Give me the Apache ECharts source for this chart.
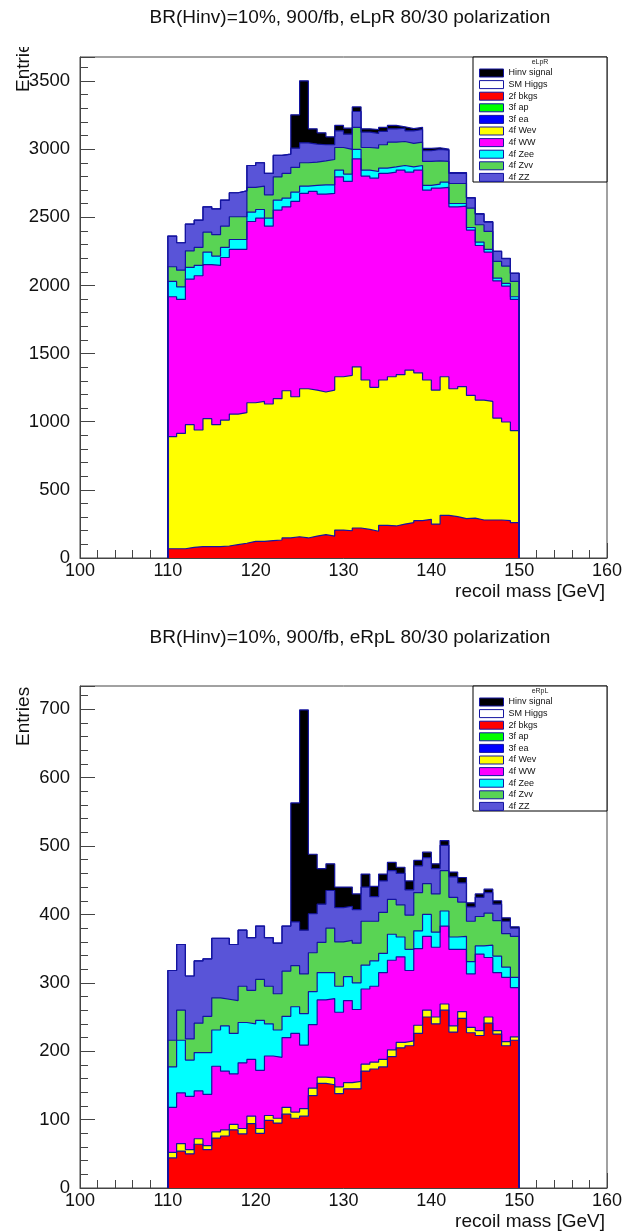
<!DOCTYPE html>
<html>
<head>
<meta charset="utf-8">
<script src="https://cdn.jsdelivr.net/npm/echarts@6/dist/echarts.min.js"></script>
<style>
html,body{margin:0;padding:0;background:#fff;}
#top{width:635px;height:615px;}
#bot{width:635px;height:616px;}
</style>
</head>
<body>
<div id="top"></div>
<div id="bot"></div>
<script>
// ---- bins: lower edges (GeV), 1 GeV wide ----
const binLowEdges = [110,111,112,113,114,115,116,117,118,119,120,121,122,123,124,125,126,127,128,129,
                     130,131,132,133,134,135,136,137,138,139,140,141,142,143,144,145,146,147,148,149];
const binWidth = 1;

const legendNames = ['Hinv signal','SM Higgs','2f bkgs','3f ap','3f ea','4f Wev','4f WW','4f Zee','4f Zvv','4f ZZ'];

// ---- eLpR: cumulative stack heights (top edge of each layer) ----
const lpr_hinv = [2362,2313,2450,2479,2577,2562,2626,2680,2694,2880,2900,2822,2954,2963,3252,3501,3149,3120,3090,3174,
                  3154,3310,3149,3144,3159,3174,3164,3150,3160,3005,3010,3000,2828,2828,2645,2527,2468,2252,2198,2090];
const lpr_zz   = [2362,2313,2450,2479,2577,2562,2626,2680,2694,2880,2900,2822,2954,2963,3007,3046,3037,3032,3032,3134,
                  3110,3276,3125,3115,3130,3149,3154,3134,3144,2988,2998,2993,2822,2822,2641,2523,2465,2249,2196,2088];
const lpr_zvv  = [2137,2112,2254,2279,2391,2372,2435,2504,2504,2719,2729,2665,2797,2822,2866,2900,2905,2914,2924,3012,
                  2998,3159,3012,3007,3032,3051,3056,3042,3051,2910,2914,2910,2748,2748,2567,2445,2396,2176,2142,2029];
const lpr_zee  = [2029,1990,2132,2147,2245,2215,2279,2337,2337,2538,2557,2494,2626,2641,2685,2729,2734,2738,2738,2846,
                  2817,2998,2846,2836,2861,2870,2880,2870,2880,2734,2743,2758,2601,2601,2425,2318,2264,2054,2015,1917];
const lpr_ww   = [1917,1897,2046,2071,2152,2147,2205,2264,2264,2469,2494,2435,2553,2577,2616,2675,2690,2670,2675,2797,
                  2763,2929,2802,2787,2822,2831,2846,2831,2846,2699,2714,2719,2577,2582,2406,2293,2245,2034,1995,1897];
const lpr_wev  = [890,914,978,939,1022,978,1012,1056,1066,1139,1149,1130,1169,1227,1183,1242,1232,1218,1232,1330,
                  1340,1403,1306,1252,1306,1330,1345,1379,1359,1306,1232,1330,1242,1257,1193,1159,1149,1027,998,934];
const lpr_2f   = [68,68,78,83,83,83,88,98,108,122,122,127,132,147,156,147,161,171,161,205,
                  200,220,210,196,240,235,249,259,274,284,249,313,303,289,293,279,279,279,274,259];

// ---- eRpL: cumulative stack heights ----
const rpl_hinv = [318,356,310,332,335,365,365,356,377,366,383,366,358,383,563,699,488,467,474,440,
                  440,430,459,441,459,476,469,449,479,491,474,508,462,454,417,430,437,420,395,382];
const rpl_zz   = [318,356,310,332,335,365,365,356,377,366,383,366,358,383,389,377,401,415,435,410,
                  412,407,440,426,449,464,460,436,471,483,467,501,455,446,411,425,432,415,390,380];
const rpl_zvv  = [216,260,218,241,251,278,276,274,295,289,305,295,284,317,325,313,344,359,380,360,
                  362,358,390,390,403,422,414,399,432,445,430,464,425,418,390,397,402,391,372,368];
const rpl_zee  = [177,216,187,198,198,231,237,226,242,240,245,240,231,251,265,255,287,315,315,295,
                  309,300,326,332,343,371,367,349,376,400,374,405,367,368,331,354,355,339,323,308];
const rpl_ww   = [118,139,134,142,137,178,171,167,183,188,172,193,191,220,226,209,239,275,277,257,
                  274,261,291,295,315,333,338,318,350,368,352,383,349,349,313,342,337,315,308,293];
const rpl_wev  = [52,65,56,72,62,82,85,93,87,105,87,106,102,118,111,116,146,162,161,148,
                  154,156,181,184,188,202,213,215,238,260,250,269,237,258,235,230,250,230,214,221];
const rpl_2f   = [44,54,50,64,56,73,76,85,79,94,80,99,95,108,102,105,135,153,151,138,
                  145,145,171,174,177,192,205,208,226,250,240,260,228,248,227,223,241,225,208,216];

const xTicks = {min:100, max:160, interval:10};

// ---- styles ----
const COLORS = {
  'Hinv signal':'#000000','SM Higgs':'#ffffff','2f bkgs':'#ff0000','3f ap':'#00ff00','3f ea':'#0000ff',
  '4f Wev':'#ffff00','4f WW':'#ff00ff','4f Zee':'#00ffff','4f Zvv':'#59d454','4f ZZ':'#5954d8'
};
const OUTLINE = '#1414a0';
const AXIS = '#444';
const FONT = '"Liberation Sans", Arial, Helvetica, sans-serif';

function histPoints(vals){
  const pts = [[binLowEdges[0], 0]];
  for (let i = 0; i < vals.length; i++) pts.push([binLowEdges[i], vals[i]]);
  const last = binLowEdges[binLowEdges.length-1] + binWidth;
  pts.push([last, vals[vals.length-1]]);
  pts.push([last, 0]);
  return pts;
}

function buildOption(o){
  const layers = [
    ['Hinv signal', o.hinv], ['SM Higgs', null], ['4f ZZ', o.zz], ['4f Zvv', o.zvv], ['4f Zee', o.zee],
    ['4f WW', o.ww], ['4f Wev', o.wev], ['3f ea', null], ['3f ap', null], ['2f bkgs', o.bkg2f]
  ];
  const series = layers.map(([name, vals]) => ({
    type:'line', name, step:'end', symbol:'none', showSymbol:false, silent:true, animation:false,
    data: vals ? histPoints(vals) : [],
    lineStyle:{color:OUTLINE, width:1.2},
    itemStyle:{color:COLORS[name]},
    areaStyle:{color:COLORS[name], opacity:1},
    emphasis:{disabled:true}
  }));
  const fTop = o.gridTop;
  const graphic = [
    {type:'text', x:350, y:o.titleY, z:20, style:{text:o.title, font:'19px '+FONT, fill:'#111', align:'center', verticalAlign:'middle'}},
    {type:'text', x:24, y:o.entriesY, rotation:Math.PI/2, z:20, style:{text:'Entries', font:'19px '+FONT, fill:'#111', align:'left', verticalAlign:'middle'}},
    {type:'rect', shape:{x:473, y:fTop, width:134, height:125}, z:5, style:{fill:'#fff', stroke:'#000', lineWidth:1}},
    {type:'text', x:540, y:fTop+5, z:21, style:{text:o.pol, font:'7px '+FONT, fill:'#222', align:'center', verticalAlign:'middle'}}
  ];
  if (o.coverEntries) {
    graphic.push({type:'rect', shape:{x:0, y:0, width:60, height:o.coverEntries}, z:30, style:{fill:'#fff'}});
  }
  return {
    animation:false,
    backgroundColor:'#fff',
    textStyle:{fontFamily:FONT},
    grid:{left:80, width:527, top:fTop, height:o.gridH, show:true, borderColor:AXIS, borderWidth:1,
          backgroundColor:'transparent', containLabel:false, outerBoundsMode:'none'},
    legend:{
      orient:'vertical', left:479, top:fTop+10.5, padding:0, itemWidth:24, itemHeight:8, itemGap:0.6,
      icon:'rect', selectedMode:false, z:10,
      itemStyle:{borderColor:OUTLINE, borderWidth:1},
      textStyle:{fontSize:9, lineHeight:11, color:'#111', fontFamily:FONT},
      data: legendNames.map(n => ({name:n, itemStyle:{color:COLORS[n], borderColor:OUTLINE, borderWidth:1}}))
    },
    xAxis:{
      type:'value', min:xTicks.min, max:xTicks.max, interval:xTicks.interval,
      axisLine:{show:true, onZero:false, lineStyle:{color:AXIS, width:1}},
      axisTick:{show:true, inside:true, length:15, lineStyle:{color:AXIS}},
      minorTick:{show:true, splitNumber:5, length:8, lineStyle:{color:AXIS}},
      splitLine:{show:false}, minorSplitLine:{show:false},
      axisLabel:{fontSize:18, color:'#111', margin:4, fontFamily:FONT, formatter: v => String(v)},
      name:'recoil mass [GeV]', nameLocation:'end', nameGap:-2, nameMoveOverlap:false,
      nameTextStyle:{fontSize:19, color:'#111', fontFamily:FONT, align:'right', verticalAlign:'top', padding:[24,0,0,0]}
    },
    yAxis:{
      type:'value', min:0, max:o.ymax, interval:o.yint,
      axisLine:{show:true, onZero:false, lineStyle:{color:AXIS, width:1}},
      axisTick:{show:true, inside:true, length:15, lineStyle:{color:AXIS}},
      minorTick:{show:true, splitNumber:5, length:8, lineStyle:{color:AXIS}},
      splitLine:{show:false}, minorSplitLine:{show:false},
      axisLabel:{fontSize:18.5, color:'#111', margin:10, fontFamily:FONT, showMaxLabel:false, formatter: v => String(v)}
    },
    graphic,
    series
  };
}

const topChart = echarts.init(document.getElementById('top'), null, {renderer:'canvas'});
topChart.setOption(buildOption({
  title:'BR(Hinv)=10%, 900/fb, eLpR 80/30 polarization', pol:'eLpR', titleY:18,
  gridTop:57, gridH:501, ymax:3676, yint:500, entriesY:92, coverEntries:47,
  hinv:lpr_hinv, zz:lpr_zz, zvv:lpr_zvv, zee:lpr_zee, ww:lpr_ww, wev:lpr_wev, bkg2f:lpr_2f
}));

const botChart = echarts.init(document.getElementById('bot'), null, {renderer:'canvas'});
botChart.setOption(buildOption({
  title:'BR(Hinv)=10%, 900/fb, eRpL 80/30 polarization', pol:'eRpL', titleY:23,
  gridTop:71, gridH:502, ymax:734, yint:100, entriesY:131, coverEntries:0,
  hinv:rpl_hinv, zz:rpl_zz, zvv:rpl_zvv, zee:rpl_zee, ww:rpl_ww, wev:rpl_wev, bkg2f:rpl_2f
}));
</script>
</body>
</html>
